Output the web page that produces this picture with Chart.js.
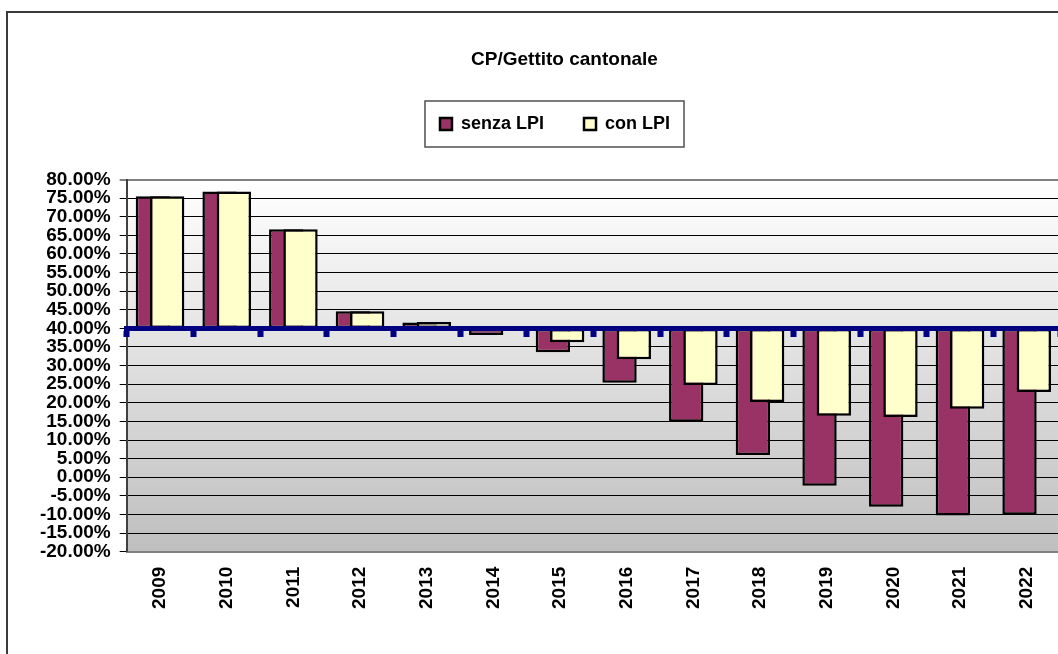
<!DOCTYPE html>
<html>
<head>
<meta charset="utf-8">
<title>CP/Gettito cantonale</title>
<script src="https://cdn.jsdelivr.net/npm/chart.js@4.4.1/dist/chart.umd.min.js"></script>
<style>
  html, body { margin: 0; padding: 0; background: #fff; overflow: hidden; }
  #frame { position: absolute; left: 6px; top: 11px; width: 1300px; height: 900px;
           border-left: 2px solid #3a3a3a; border-top: 2px solid #3a3a3a; }
  #wrap { position: absolute; left: 0; top: 0; width: 1129px; height: 654px; }
</style>
</head>
<body>
<div id="frame"></div>
<div id="wrap"><canvas id="myChart"></canvas></div>
<script>
var years = ["2009", "2010", "2011", "2012", "2013", "2014", "2015",
             "2016", "2017", "2018", "2019", "2020", "2021", "2022"];
var senzaLPI = [75.5, 76.8, 66.6, 44.6, 41.6, 38.2, 33.6, 25.4, 14.9, 6.0, -2.3, -7.9, -10.3, -10.1];
var conLPI   = [75.5, 76.8, 66.6, 44.6, 41.7, 39.6, 36.3, 31.7, 24.8, 20.2, 16.5, 16.2, 18.4, 22.9];
var baseLine = 40;   // bars start from the 40% line
var yMin = -20, yMax = 80, yStep = 5;

var fontFamily = "'Liberation Sans', Arial, Helvetica, sans-serif";
Chart.defaults.font.family = fontFamily;
Chart.defaults.font.weight = "bold";
Chart.defaults.color = "#000";

// grey gradient behind the plot, legend frame, title/legend centring, bar draw order
var chartDeco = {
  id: "chartDeco",
  beforeInit: function (chart) {
    var fit = chart.legend.fit;
    chart.legend.fit = function () {
      fit.call(this);
      this.height = 104.5;
    };
  },
  afterLayout: function (chart) {
    var t = chart.titleBlock;
    t.right = chart.width; t.width = t.right - t.left;
    var l = chart.legend;
    l.right = chart.width - 19; l.width = l.right - l.left;
  },
  beforeDraw: function (chart) {
    var a = chart.chartArea, ctx = chart.ctx;
    var g = ctx.createLinearGradient(0, a.top, 0, a.bottom);
    g.addColorStop(0, "#ffffff");
    g.addColorStop(1, "#bfbfbf");
    ctx.save();
    ctx.fillStyle = g;
    ctx.fillRect(a.left, a.top, a.right - a.left, a.bottom - a.top);
    ctx.restore();
  },
  beforeDatasetsDraw: function (chart) {
    // purple first, yellow drawn over it
    chart.getDatasetMeta(0).controller.draw();
    chart.getDatasetMeta(1).controller.draw();
    return false;
  },
  afterDraw: function (chart) {
    var hb = chart.legend.legendHitBoxes;
    if (!hb || !hb.length) return;
    var last = hb[hb.length - 1];
    var x0 = hb[0].left - 15, x1 = last.left + last.width + 14;
    var y0 = hb[0].top - 14, y1 = hb[0].top + hb[0].height + 14;
    var ctx = chart.ctx;
    ctx.save();
    ctx.strokeStyle = "#505050";
    ctx.lineWidth = 1.5;
    ctx.strokeRect(x0, y0, x1 - x0, y1 - y0);
    ctx.restore();
  }
};

new Chart("myChart", {
  type: "bar",
  data: {
    labels: years,
    datasets: [{
      label: "senza LPI",
      data: senzaLPI,
      base: baseLine,
      backgroundColor: "#993366",
      borderColor: "#000",
      borderWidth: 2.5,
      borderSkipped: false,
      categoryPercentage: 0.429,
      barPercentage: 2.4
    }, {
      label: "con LPI",
      data: conLPI,
      base: baseLine,
      backgroundColor: "#FFFFCC",
      borderColor: "#000",
      borderWidth: 2.5,
      borderSkipped: false,
      categoryPercentage: 0.429,
      barPercentage: 2.4
    }]
  },
  options: {
    responsive: true,
    maintainAspectRatio: false,
    animation: false,
    layout: { padding: { left: 0, right: 69, top: 0, bottom: 0 } },
    plugins: {
      title: {
        display: true,
        text: "CP/Gettito cantonale",
        color: "#000",
        font: { size: 19, weight: "bold" },
        padding: { top: 48.6, bottom: 3.6 }
      },
      legend: {
        display: true,
        position: "top",
        labels: {
          boxWidth: 12,
          boxHeight: 12,
          padding: 40,
          color: "#000",
          font: { size: 18, weight: "bold" }
        }
      },
      tooltip: { enabled: false }
    },
    scales: {
      x: {
        offset: true,
        grid: { display: false, drawTicks: false },
        border: { display: true, color: "#808080", width: 2 },
        ticks: {
          autoSkip: false,
          minRotation: 90,
          maxRotation: 90,
          padding: 15,
          color: "#000",
          font: { size: 19, weight: "bold" }
        },
        afterFit: function (s) { s.height = 102.3; }
      },
      // the thick navy line at 40% with its tick stubs between the years
      x2: {
        type: "category",
        axis: "x",
        labels: years,
        position: { y: baseLine },
        offset: true,
        grid: {
          display: true,
          offset: true,
          drawOnChartArea: false,
          drawTicks: true,
          tickLength: 6,
          tickWidth: 6,
          tickColor: "#000080",
          z: 1
        },
        border: { display: true, color: "#000080", width: 5, z: 1 },
        ticks: { display: false }
      },
      y: {
        min: yMin,
        max: yMax,
        grid: {
          color: function (c) { return c.tick && c.tick.value === yMax ? "#808080" : "#000"; },
          lineWidth: function (c) { return c.tick && c.tick.value === yMax ? 2 : 1; },
          tickColor: "#000",
          tickWidth: 1,
          tickLength: 7
        },
        border: { display: true, color: "#404040", width: 2 },
        ticks: {
          stepSize: yStep,
          autoSkip: false,
          padding: 9,
          color: "#000",
          font: { size: 19, weight: "bold", lineHeight: 1 },
          callback: function (v) { return v.toFixed(2) + "%"; }
        },
        afterFit: function (s) { s.width = 126.7; }
      }
    }
  },
  plugins: [chartDeco]
});
</script>
</body>
</html>
